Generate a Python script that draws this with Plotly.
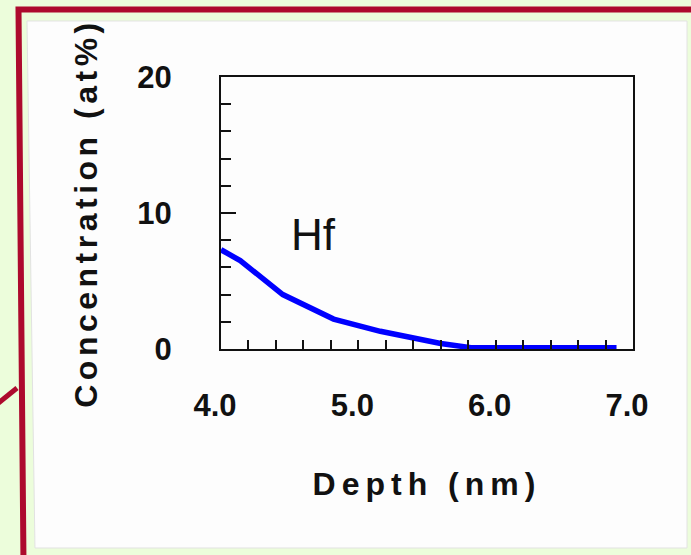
import plotly.graph_objects as go

# ---- data ----
DEPTH_NM = [4.0, 4.14, 4.45, 4.82, 5.16, 5.6, 5.82, 6.88]
HF_AT_PCT = [7.3, 6.5, 4.0, 2.2, 1.3, 0.4, 0.1, 0.1]

X_TICK_VALUES = [4, 5, 6, 7]
X_TICK_LABELS = ["4.0", "5.0", "6.0", "7.0"]
Y_TICK_VALUES = [0, 10, 20]
Y_TICK_LABELS = ["0", "10", "20"]

SERIES_LABEL = "Hf"
X_TITLE = "Depth (nm)"
Y_TITLE = "Concentration (at%)"

# ---- layout geometry (pixels) ----
FIG_W, FIG_H = 691, 555
PL, PR, PT, PB = 221, 633, 77, 349
PW, PH = PR - PL, PB - PT


def px(x):
    return (x - PL) / PW


def py(y):
    return (PB - y) / PH


RED = "#ad0a2d"
GREEN = "#ecfddb"

fig = go.Figure()
fig.add_trace(go.Scatter(
    x=DEPTH_NM, y=HF_AT_PCT, mode="lines",
    line=dict(color="#0000ff", width=5.5),
    showlegend=False, hoverinfo="skip",
))

white_path = "M {:.4f},{:.4f} L {:.4f},{:.4f} L {:.4f},{:.4f} L {:.4f},{:.4f} Z".format(
    px(27), py(21), px(687), py(21), px(687), py(548), px(35), py(548))
frame_path = "M {:.4f},{:.4f} L {:.4f},{:.4f} L {:.4f},{:.4f} L {:.4f},{:.4f} Z".format(
    px(23.5), py(562), px(18.5), py(9.5), px(705), py(9.5), px(705), py(558))
arrow_path = "M {:.4f},{:.4f} L {:.4f},{:.4f}".format(px(-4), py(405), px(17), py(388))

shapes = [
    dict(type="path", path=white_path, xref="paper", yref="paper",
         fillcolor="#fdfdfd", line=dict(color="#e2e2e2", width=1), layer="below"),
    dict(type="path", path=frame_path, xref="paper", yref="paper",
         fillcolor="rgba(0,0,0,0)", line=dict(color=RED, width=6), layer="below"),
    dict(type="path", path=arrow_path, xref="paper", yref="paper",
         line=dict(color=RED, width=5), layer="below"),
]

FONT = "Liberation Sans, Arial, sans-serif"
tick_font = dict(family=FONT, size=31, color="#111111", weight="bold")
x_title_font = dict(family=FONT, size=32, color="#111111", weight="bold")
y_title_font = dict(family=FONT, size=32, color="#111111", weight="bold")

fig.update_layout(
    width=FIG_W, height=FIG_H,
    margin=dict(l=PL, r=FIG_W - PR, t=PT, b=FIG_H - PB, pad=0),
    paper_bgcolor=GREEN,
    plot_bgcolor="#ccffff",
    shapes=shapes,
    showlegend=False,
    xaxis=dict(
        range=[4, 7], showgrid=False, zeroline=False,
        showline=True, linecolor="#111111", linewidth=2, mirror=True,
        tickvals=X_TICK_VALUES, ticktext=X_TICK_LABELS,
        ticks="inside", ticklen=9, tickwidth=2, tickcolor="#111111",
        minor=dict(dtick=0.2, tick0=4, ticks="inside", ticklen=9, tickwidth=2, tickcolor="#111111"),
        tickfont=tick_font, ticklabelstandoff=28, ticklabelshift=-6,
        title=dict(text=X_TITLE, font=x_title_font, standoff=50),
        automargin=False, fixedrange=True,
    ),
    yaxis=dict(
        range=[0, 20], showgrid=False, zeroline=False,
        showline=True, linecolor="#111111", linewidth=2, mirror=True,
        tickvals=Y_TICK_VALUES, ticktext=Y_TICK_LABELS,
        ticks="inside", ticklen=15, tickwidth=2, tickcolor="#111111",
        minor=dict(dtick=2, tick0=0, ticks="inside", ticklen=10, tickwidth=2, tickcolor="#111111"),
        tickfont=tick_font, ticklabelstandoff=41,
        title=dict(text=Y_TITLE, font=y_title_font, standoff=30),
        automargin=False, fixedrange=True,
    ),
    annotations=[
        dict(x=4.67, y=8.4, xref="x", yref="y", text=SERIES_LABEL, showarrow=False,
             font=dict(family=FONT, size=44, color="#111111"),
             xanchor="center", yanchor="middle"),
    ],
)

post = """
document.body.style.margin = '0';
document.body.style.overflow = 'hidden';
var st = document.createElement('style');
st.textContent = 'html,body{margin:0;padding:0;} .xtitle{letter-spacing:6px;} .ytitle{letter-spacing:4.5px;}';
document.head.appendChild(st);
"""

fig.write_html("out.html", config={"displayModeBar": False}, post_script=post)
